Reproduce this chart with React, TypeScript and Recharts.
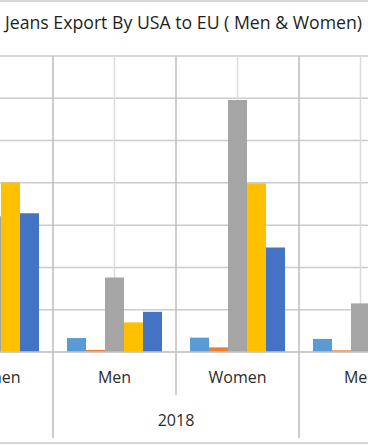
import { BarChart, Bar, XAxis, YAxis, CartesianGrid } from 'recharts';

// categories run off both sides of the frame, like the reference crop
const categories = ['Women', 'Men', 'Women', 'Men'];
const years = ['2017', '2018', '2018', '2019'];
const seriesA = [180, 165, 170, 155];
const seriesB = [50, 25, 55, 20];
const seriesC = [1605, 880, 2980, 575];
const seriesD = [2005, 350, 1995, 300];
const seriesE = [1640, 475, 1235, 400];
const yTicks = [0, 500, 1000, 1500, 2000, 2500, 3000, 3500];

const seriesKeys = ['A', 'B', 'C', 'D', 'E'];
const COLORS = ['#5b9bd5', '#ed7d31', '#a5a5a5', '#ffc000', '#4472c4'];

const data = categories.map((cat, i) => ({
  cat,
  year: years[i],
  A: seriesA[i],
  B: seriesB[i],
  C: seriesC[i],
  D: seriesD[i],
  E: seriesE[i],
}));

const W = 368;
const H = 445;
const CAT_W = 123;
const CHART_W = CAT_W * categories.length;
const OFFSET_X = -70;
const PLOT_TOP = 56;
const PLOT_BOTTOM = 352;
const AXIS_H = H - PLOT_BOTTOM;

function CatTick(props: any) {
  const { x, index } = props;
  const i = index as number;
  const left = x - CAT_W / 2;
  const newYear = i === 0 || years[i] !== years[i - 1];
  const firstOfPair = years[i + 1] === years[i] && newYear;
  return (
    <g>
      <line x1={left} x2={left} y1={PLOT_BOTTOM} y2={newYear ? 438 : 395} stroke="#bdbdbd" strokeWidth={1.5} />
      <text x={x} y={383} textAnchor="middle" fontSize={16} fill="#2b2b2b">
        {categories[i]}
      </text>
      {firstOfPair && (
        <text x={x + CAT_W / 2} y={426} textAnchor="middle" fontSize={16} fill="#2b2b2b">
          {years[i]}
        </text>
      )}
    </g>
  );
}

export default function App() {
  const boundaries = categories.map((_, i) => i * CAT_W);
  return (
    <div
      style={{
        position: 'fixed',
        left: 0,
        top: 0,
        width: W,
        height: H,
        overflow: 'hidden',
        background: '#fff',
        fontFamily: '"Open Sans", sans-serif',
      }}
    >
      <div style={{ position: 'absolute', left: OFFSET_X, top: 0 }}>
        <BarChart
          width={CHART_W}
          height={H}
          data={data}
          margin={{ top: PLOT_TOP, right: 0, bottom: 0, left: 0 }}
          barCategoryGap={14}
          barGap={0}
        >
          <CartesianGrid stroke="#cccccc" strokeWidth={1.5} vertical={false} />
          <CartesianGrid stroke="#dcdcdc" strokeWidth={1.5} horizontal={false} />
          <CartesianGrid stroke="#bdbdbd" strokeWidth={1.5} horizontal={false} verticalPoints={boundaries} />
          <YAxis hide domain={[0, 3500]} ticks={yTicks} />
          <XAxis
            dataKey="cat"
            height={AXIS_H}
            tickLine={false}
            axisLine={{ stroke: '#c4c4c4', strokeWidth: 1.5 }}
            tick={(p: any) => <CatTick {...p} />}
            interval={0}
          />
          {seriesKeys.map((k, i) => (
            <Bar key={k} dataKey={k} fill={COLORS[i]} isAnimationActive={false} />
          ))}
        </BarChart>
      </div>
      <svg width={W} height={H} style={{ position: 'absolute', left: 0, top: 0, pointerEvents: 'none' }}>
        <line x1={0} x2={W} y1={1} y2={1} stroke="#c8c8c8" strokeWidth={1.5} />
        <line x1={0} x2={W} y1={443} y2={443} stroke="#c8c8c8" strokeWidth={1.5} />
        <text x={183.5} y={29} textAnchor="middle" fontSize={17.7} fill="#1e1e1e" fontFamily='"Open Sans", sans-serif'>
          Jeans Export By USA to EU ( Men &amp; Women)
        </text>
      </svg>
    </div>
  );
}
